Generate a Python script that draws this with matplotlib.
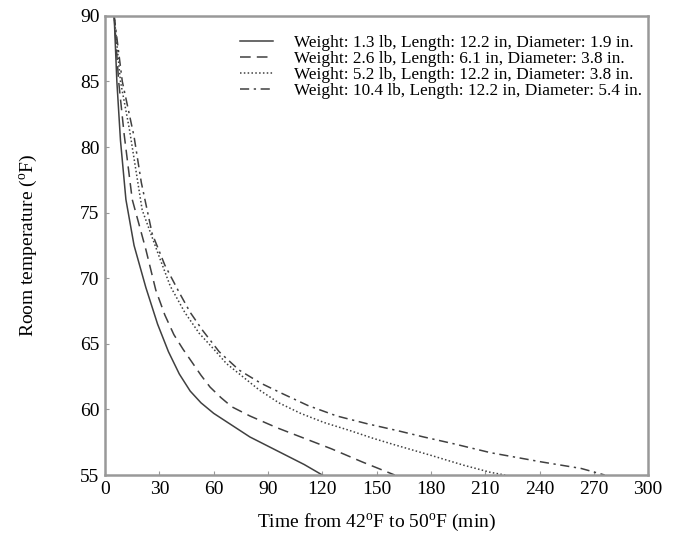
import matplotlib
matplotlib.use("Agg")
import matplotlib.pyplot as plt

plt.rcParams['font.family'] = ['Liberation Serif', 'DejaVu Serif']
plt.rcParams['mathtext.fontset'] = 'custom'
plt.rcParams['mathtext.rm'] = 'Liberation Serif'

# curves: time (min) vs room temperature (F)
t1 = [5, 6.5, 8.5, 11.5, 16, 22.5, 29, 35, 41, 47, 53, 60, 70, 80, 90, 100, 110, 120]
T1 = [90, 85, 80.5, 76, 72.5, 69.3, 66.5, 64.4, 62.7, 61.4, 60.5, 59.7, 58.8, 57.9, 57.2, 56.5, 55.8, 55]

t2 = [5, 7.5, 10.5, 15, 22.5, 28, 33, 38, 43, 48, 53, 58, 64, 70, 80, 95, 110, 125, 142, 160]
T2 = [90, 85, 81, 76, 72.2, 69.1, 67.2, 65.7, 64.6, 63.6, 62.6, 61.7, 60.9, 60.2, 59.5, 58.6, 57.8, 57.0, 56.0, 55]

t3 = [5, 8.5, 13.5, 20.5, 30, 36, 44, 52, 60, 67, 76, 85, 96, 108, 121, 135, 148, 160, 180, 198, 213, 221]
T3 = [90, 85, 81.3, 75.2, 71.6, 69.4, 67.4, 65.8, 64.6, 63.5, 62.5, 61.5, 60.5, 59.7, 59.0, 58.4, 57.8, 57.3, 56.5, 55.75, 55.2, 55]

t4 = [5, 9.5, 16, 20, 26, 33, 41, 47, 54, 63, 74, 86, 98, 112, 128, 145, 161, 176, 192, 213, 241, 263, 276]
T4 = [90, 85, 80.8, 77.3, 73.4, 71.0, 68.9, 67.4, 66, 64.4, 63, 62.0, 61.2, 60.3, 59.5, 58.9, 58.4, 57.9, 57.4, 56.7, 56, 55.5, 55]

labels = ["Weight: 1.3 lb, Length: 12.2 in, Diameter: 1.9 in.",
          "Weight: 2.6 lb, Length: 6.1 in, Diameter: 3.8 in.",
          "Weight: 5.2 lb, Length: 12.2 in, Diameter: 3.8 in.",
          "Weight: 10.4 lb, Length: 12.2 in, Diameter: 5.4 in."]

xticks = [0, 30, 60, 90, 120, 150, 180, 210, 240, 270, 300]
yticks = [55, 60, 65, 70, 75, 80, 85, 90]

fig = plt.figure(figsize=(6.78, 5.46), dpi=100)
ax = fig.add_axes([0.155, 0.13, 0.801, 0.841])

c = '#404040'
ax.plot(t1, T1, color=c, lw=1.1, linestyle='-', label=labels[0])
ax.plot(t2, T2, color=c, lw=1.1, linestyle=(0, (7, 4)), label=labels[1])
ax.plot(t3, T3, color=c, lw=1.1, linestyle=(0, (1, 1.5)), label=labels[2])
ax.plot(t4, T4, color=c, lw=1.1, linestyle=(0, (6, 3, 1.5, 3)), label=labels[3])

ax.set_xlim(0, 300)
ax.set_ylim(55, 90)
ax.set_xticks(xticks)
ax.set_yticks(yticks)
ax.tick_params(direction='in', length=3, color='#999999', labelsize=14, pad=4)

for s in ax.spines.values():
    s.set_color('#999999')
    s.set_linewidth(1.8)

ax.set_xlabel(r"Time from 42$^{\mathrm{o}}$F to 50$^{\mathrm{o}}$F (min)", fontsize=14, labelpad=10)
ax.set_ylabel(r"Room temperature ($^{\mathrm{o}}$F)", fontsize=14, labelpad=29)

ax.legend(loc='upper right', frameon=False, fontsize=12.4, handlelength=1.9,
          labelspacing=0.0, borderaxespad=0.3, handletextpad=1.2,
          bbox_to_anchor=(1.01, 0.985))

fig.savefig("out.png", dpi=100)
